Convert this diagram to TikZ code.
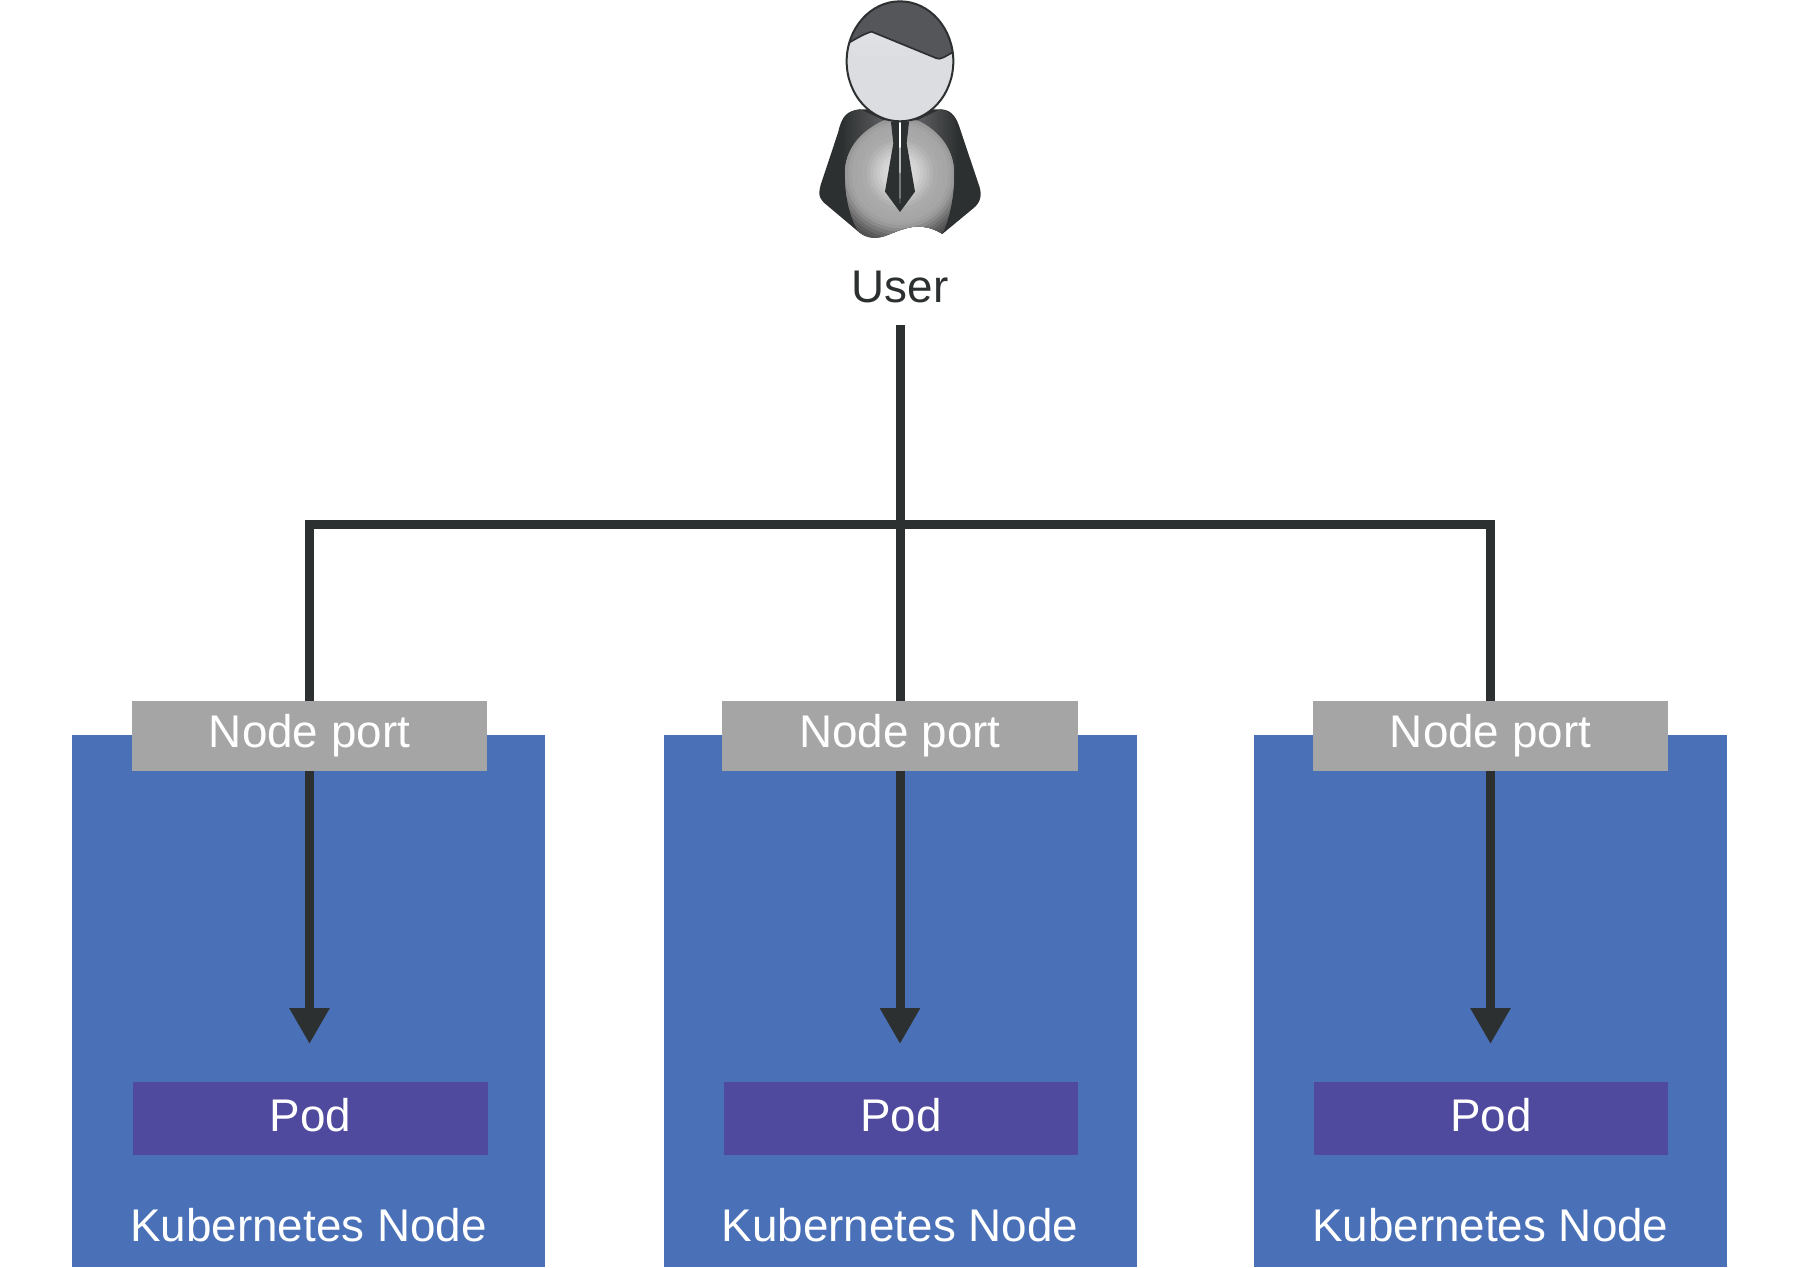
\documentclass[tikz,border=0pt]{standalone}
\usepackage{fontspec}
\setmainfont{Liberation Sans}
\usetikzlibrary{arrows.meta}
\definecolor{kblue}{HTML}{4A71B8}
\definecolor{kpurple}{HTML}{4F4A9E}
\definecolor{kgray}{HTML}{A5A5A5}
\definecolor{kdark}{HTML}{2D3031}
\definecolor{khair}{HTML}{55565A}
\definecolor{kshoulder}{HTML}{5F6063}
\pgfdeclareverticalshading{faceshade}{100bp}{%
  rgb(0bp)=(.86,.865,.88);rgb(50bp)=(.86,.865,.88);rgb(100bp)=(.94,.94,.95)}
\tikzset{
  x=1pt,y=-1pt,
  txt/.style={font=\fontsize{45.8pt}{50pt}\selectfont,text=white,inner sep=0pt,outer sep=0pt},
  k8snode/.style={txt,fill=kblue,minimum width=473pt,text height=506pt,text depth=26pt},
  portbox/.style={txt,fill=kgray,minimum width=355.5pt,text height=47pt,text depth=23pt},
  podbox/.style={txt,fill=kpurple,minimum width=354.5pt,text height=49.5pt,text depth=24pt},
  wire/.style={draw=kdark,line width=9pt},
  flow/.style={wire,-{Triangle[width=38pt,length=36pt]},shorten >=37.5pt},
  usertext/.style={txt,text=kdark,minimum height=78pt,text height=55pt,text depth=23pt},
}
\begin{document}
\begin{tikzpicture}
\useasboundingbox (0,0) rectangle (1800,1267);
% Kubernetes nodes
\node[k8snode,anchor=north] (k1) at (308.5,735) {Kubernetes Node};
\node[k8snode,anchor=north] (k2) at (900,735) {Kubernetes Node};
\node[k8snode,anchor=north] (k3) at (1490.3,735) {Kubernetes Node};
% Node ports
\node[portbox,anchor=north] (port1) at (309.5,700.5) {Node port};
\node[portbox,anchor=north] (port2) at (900,700.5) {Node port};
\node[portbox,anchor=north] (port3) at (1490.5,700.5) {Node port};
% Pods
\node[podbox,anchor=north] (pod1) at (310.5,1081.5) {Pod};
\node[podbox,anchor=north] (pod2) at (901,1081.5) {Pod};
\node[podbox,anchor=north] (pod3) at (1491,1081.5) {Pod};
% User
\node[usertext,anchor=south] (user) at (900,325) {User};
\coordinate (hub) at (900,524);
% Connectors
\draw[wire] (user.south) -- (port2.north);
\draw[wire,line cap=butt,line join=miter] (port1.north) -- (port1.north |- hub) -- (port3.north |- hub) -- (port3.north);
\draw[flow] (port1.south) -- (port1.south |- pod1.north);
\draw[flow] (port2.south) -- (port2.south |- pod2.north);
\draw[flow] (port3.south) -- (port3.south |- pod3.north);
% Person icon
\begin{scope}[shift={(780,0)},x=.3333pt,y=-.3333pt]
  % body
  \fill[kdark] (240,328) .. controls (200,332) and (185,350) .. (175,395) -- (122,555) .. controls (112,590) and (122,600) .. (140,615) -- (235,695) .. controls (262,718) and (295,718) .. (330,702) .. controls (355,692) and (380,682) .. (405,680) .. controls (440,678) and (465,688) .. (487,702) -- (580,625) .. controls (605,605) and (607,580) .. (595,550) -- (538,380) .. controls (525,340) and (505,328) .. (480,328) -- cycle;
  % shoulders
  \shade[left color=kdark,right color=kshoulder] (240,328) .. controls (210,332) and (195,345) .. (185,385) .. controls (190,450) and (185,600) .. (235,695) -- (320,365) -- cycle;
  \shade[left color=kshoulder,right color=kdark] (480,328) .. controls (510,332) and (525,350) .. (532,390) .. controls (530,450) and (535,600) .. (487,700) -- (410,362) -- cycle;
  % vest
  \begin{scope}
    \clip (235,695) .. controls (205,640) and (195,580) .. (195,520) .. controls (195,450) and (240,395) .. (310,362) -- (415,362) .. controls (480,395) and (522,450) .. (522,520) .. controls (522,590) and (510,650) .. (487,702) .. controls (465,688) and (440,678) .. (405,680) .. controls (380,682) and (355,692) .. (330,702) .. controls (295,718) and (262,718) .. (235,695) -- cycle;
    \foreach \r/\g in {230/28,215/32,205/36,195/42,185/48,175/54,165/60,155/63,145/65,130/66,115/67,100/70,90/73,80/76,70/79,60/82,50/84,40/85}{
      \fill[white!\g!black] (360,520) circle [radius=\r];
    }
  \end{scope}
  % tie
  \fill[kdark] (333,366) -- (387,366) -- (380,430) -- (405,575) -- (360,636) -- (315,575) -- (340,430) -- cycle;
  \fill[white] (357,366) -- (363,366) -- (360.6,610) -- (359.4,610) -- cycle;
  % head
  \begin{scope}
    \clip (360,184) ellipse [x radius=160,y radius=180];
    \shade[shading=faceshade] (190,0) rectangle (530,370);
    \fill[khair] (190,0) -- (530,0) -- (530,150) -- (520,155) .. controls (495,170) and (480,180) .. (470,175) -- (275,95) .. controls (255,100) and (230,115) .. (207,128) -- (190,135) -- cycle;
    \draw[kdark,line width=1.7pt] (200,132) -- (207,128) .. controls (230,115) and (255,100) .. (275,95) -- (470,175) .. controls (480,180) and (495,170) .. (525,153);
  \end{scope}
  \draw[kdark,line width=2pt] (360,184) ellipse [x radius=160,y radius=180];
\end{scope}
\end{tikzpicture}
\end{document}
